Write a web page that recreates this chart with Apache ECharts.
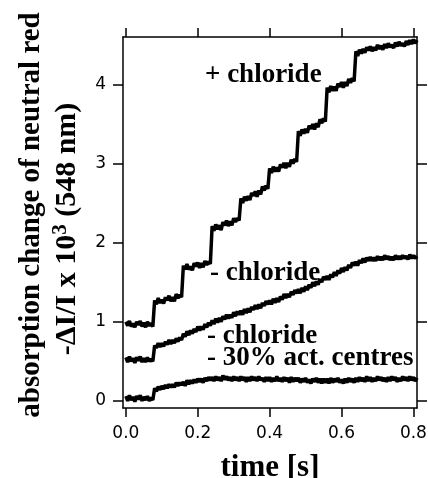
<!DOCTYPE html>
<html><head><meta charset="utf-8">
<script src="https://cdn.jsdelivr.net/npm/echarts@6/dist/echarts.min.js"></script>
<style>html,body{margin:0;padding:0;background:#fff}#c{width:428px;height:478px}</style>
</head><body><div id="c"></div>
<script>
const times = [
  0.000,0.005,0.010,0.015,0.020,0.025,0.030,0.035,0.040,0.045,0.050,0.055,0.060,0.065,0.070,0.075,
  0.080,0.085,0.090,0.095,0.100,0.105,0.110,0.115,0.120,0.125,0.130,0.135,0.140,0.145,0.150,0.155,
  0.160,0.165,0.170,0.175,0.180,0.185,0.190,0.195,0.200,0.205,0.210,0.215,0.220,0.225,0.230,0.235,
  0.240,0.245,0.250,0.255,0.260,0.265,0.270,0.275,0.280,0.285,0.290,0.295,0.300,0.305,0.310,0.315,
  0.320,0.325,0.330,0.335,0.340,0.345,0.350,0.355,0.360,0.365,0.370,0.375,0.380,0.385,0.390,0.395,
  0.400,0.405,0.410,0.415,0.420,0.425,0.430,0.435,0.440,0.445,0.450,0.455,0.460,0.465,0.470,0.475,
  0.480,0.485,0.490,0.495,0.500,0.505,0.510,0.515,0.520,0.525,0.530,0.535,0.540,0.545,0.550,0.555,
  0.560,0.565,0.570,0.575,0.580,0.585,0.590,0.595,0.600,0.605,0.610,0.615,0.620,0.625,0.630,0.635,
  0.640,0.645,0.650,0.655,0.660,0.665,0.670,0.675,0.680,0.685,0.690,0.695,0.700,0.705,0.710,0.715,
  0.720,0.725,0.730,0.735,0.740,0.745,0.750,0.755,0.760,0.765,0.770,0.775,0.780,0.785,0.790,0.795,
  0.800,0.805,0.810];
const plusChloride = [
  1.00,0.95,1.01,0.94,0.98,0.93,1.00,0.96,1.01,0.94,0.99,0.93,1.00,0.95,0.98,0.94,
  1.27,1.22,1.30,1.24,1.28,1.23,1.31,1.27,1.33,1.26,1.31,1.26,1.35,1.30,1.34,1.31,
  1.71,1.66,1.73,1.66,1.70,1.65,1.74,1.70,1.75,1.68,1.74,1.69,1.77,1.72,1.76,1.73,
  2.21,2.15,2.23,2.17,2.22,2.16,2.26,2.22,2.28,2.21,2.27,2.22,2.31,2.26,2.31,2.28,
  2.56,2.50,2.58,2.53,2.59,2.54,2.63,2.59,2.65,2.58,2.66,2.61,2.71,2.66,2.72,2.68,
  2.94,2.88,2.96,2.90,2.95,2.90,2.99,2.95,3.01,2.94,3.01,2.96,3.05,3.00,3.06,3.02,
  3.41,3.35,3.43,3.38,3.44,3.39,3.48,3.44,3.50,3.43,3.51,3.46,3.56,3.51,3.57,3.53,
  3.96,3.90,3.98,3.92,3.97,3.92,4.01,3.97,4.03,3.96,4.03,3.98,4.07,4.02,4.08,4.04,
  4.42,4.36,4.44,4.39,4.45,4.40,4.47,4.43,4.48,4.42,4.47,4.43,4.50,4.45,4.49,4.44,
  4.51,4.46,4.52,4.47,4.50,4.46,4.53,4.48,4.54,4.49,4.52,4.48,4.55,4.50,4.56,4.51,
  4.57,4.52,4.56];
const minusChloride = [
  0.55,0.49,0.56,0.50,0.54,0.48,0.55,0.51,0.56,0.49,0.54,0.49,0.55,0.50,0.53,0.50,
  0.70,0.67,0.73,0.68,0.73,0.69,0.75,0.71,0.77,0.72,0.77,0.73,0.79,0.75,0.80,0.77,
  0.85,0.81,0.88,0.83,0.89,0.85,0.91,0.87,0.94,0.89,0.94,0.90,0.97,0.93,0.99,0.95,
  1.02,0.97,1.04,0.99,1.05,1.00,1.07,1.03,1.09,1.04,1.09,1.05,1.12,1.07,1.13,1.09,
  1.14,1.09,1.16,1.11,1.17,1.12,1.19,1.15,1.21,1.16,1.22,1.17,1.24,1.20,1.26,1.22,
  1.27,1.22,1.29,1.24,1.30,1.25,1.32,1.28,1.35,1.30,1.35,1.31,1.38,1.34,1.40,1.36,
  1.41,1.36,1.43,1.38,1.45,1.40,1.47,1.43,1.50,1.45,1.51,1.47,1.54,1.50,1.57,1.53,
  1.58,1.53,1.60,1.56,1.63,1.58,1.65,1.61,1.68,1.63,1.69,1.65,1.72,1.68,1.75,1.71,
  1.76,1.71,1.78,1.74,1.80,1.75,1.81,1.77,1.82,1.77,1.81,1.77,1.83,1.78,1.82,1.78,
  1.84,1.79,1.83,1.78,1.82,1.78,1.84,1.79,1.83,1.79,1.84,1.80,1.83,1.79,1.85,1.80,
  1.84,1.80,1.83];
const reducedCentres = [
  0.06,0.00,0.07,0.01,0.05,-0.01,0.06,0.02,0.07,0.00,0.05,0.01,0.06,0.00,0.04,0.01,
  0.16,0.12,0.18,0.14,0.19,0.15,0.20,0.16,0.21,0.17,0.21,0.17,0.23,0.19,0.23,0.20,
  0.24,0.19,0.26,0.21,0.26,0.22,0.27,0.23,0.28,0.24,0.28,0.23,0.29,0.25,0.30,0.26,
  0.30,0.25,0.31,0.26,0.30,0.25,0.32,0.27,0.31,0.26,0.30,0.25,0.31,0.26,0.30,0.25,
  0.31,0.26,0.30,0.24,0.30,0.25,0.31,0.26,0.30,0.25,0.31,0.26,0.29,0.24,0.30,0.25,
  0.30,0.24,0.29,0.25,0.31,0.25,0.29,0.24,0.30,0.25,0.29,0.23,0.30,0.24,0.29,0.25,
  0.29,0.23,0.28,0.24,0.29,0.23,0.27,0.22,0.28,0.24,0.29,0.23,0.28,0.22,0.28,0.23,
  0.28,0.22,0.29,0.23,0.28,0.24,0.29,0.23,0.27,0.22,0.28,0.23,0.29,0.24,0.28,0.23,
  0.29,0.24,0.30,0.25,0.29,0.24,0.31,0.25,0.30,0.24,0.29,0.25,0.31,0.26,0.30,0.25,
  0.29,0.24,0.30,0.25,0.31,0.26,0.30,0.24,0.29,0.25,0.31,0.26,0.30,0.25,0.31,0.26,
  0.30,0.25,0.29];
const xTicks = [0, 0.2, 0.4, 0.6, 0.8];
const yTicks = [0, 1, 2, 3, 4];
const traceLabels = ['+ chloride', '- chloride', '- chloride', '- 30% act. centres'];

const pairs = arr => times.map((t, i) => [t, arr[i]]);
const serif = '"Liberation Serif", "Times New Roman", serif';
const lineCol = '#000';

function xAx(pos, labels) {
  return {
    type: 'value', min: -0.008, max: 0.81, position: pos,
    axisLine: { show: true, onZero: false, lineStyle: { color: lineCol, width: 1.5 } },
    axisTick: { show: true, length: 9, customValues: xTicks, lineStyle: { color: lineCol, width: 1.5 } },
    axisLabel: labels ? { show: true, customValues: xTicks, formatter: v => v.toFixed(1), margin: 17,
      color: '#000', fontFamily: 'DejaVu Sans', fontSize: 17 } : { show: false },
    splitLine: { show: false }
  };
}
function yAx(pos, labels) {
  return {
    type: 'value', min: -0.09, max: 4.6, position: pos,
    axisLine: { show: true, onZero: false, lineStyle: { color: lineCol, width: 1.5 } },
    axisTick: { show: true, length: 10, customValues: yTicks, lineStyle: { color: lineCol, width: 1.5 } },
    axisLabel: labels ? { show: true, customValues: yTicks, formatter: v => String(v), margin: 17,
      color: '#000', fontFamily: 'DejaVu Sans', fontSize: 17 } : { show: false },
    splitLine: { show: false }
  };
}

const xb = xAx('bottom', true);
xb.name = 'time [s]';
xb.nameLocation = 'middle';
xb.nameGap = 44;
xb.nameTextStyle = { fontFamily: serif, fontWeight: 'bold', fontSize: 31, color: '#000' };

const lineSeries = (name, arr) => ({
  name, type: 'line', data: pairs(arr), showSymbol: false, symbol: 'none',
  lineStyle: { color: '#000', width: 3.5 }, xAxisIndex: 0, yAxisIndex: 0, animation: false
});

const labelFont = 'bold 27px ' + serif;
const chart = echarts.init(document.getElementById('c'), null, { renderer: 'canvas' });
chart.setOption({
  backgroundColor: '#fff',
  animation: false,
  grid: { left: 123, right: 11, top: 37, bottom: 70, containLabel: false, outerBoundsMode: 'none' },
  xAxis: [xb, xAx('top', false)],
  yAxis: [yAx('left', true), yAx('right', false)],
  series: [
    lineSeries('+ chloride', plusChloride),
    lineSeries('- chloride', minusChloride),
    lineSeries('- chloride, - 30% act. centres', reducedCentres)
  ],
  graphic: [
    { type: 'text', x: 205, y: 75, style: { text: traceLabels[0], font: labelFont, fill: '#000', align: 'left', verticalAlign: 'middle' } },
    { type: 'text', x: 210, y: 273, style: { text: traceLabels[1], font: labelFont, fill: '#000', align: 'left', verticalAlign: 'middle' } },
    { type: 'text', x: 207, y: 336, style: { text: traceLabels[2], font: labelFont, fill: '#000', align: 'left', verticalAlign: 'middle' } },
    { type: 'text', x: 207, y: 358, style: { text: traceLabels[3], font: labelFont, fill: '#000', align: 'left', verticalAlign: 'middle' } },
    { type: 'text', x: 32, y: 215, rotation: Math.PI / 2,
      style: { text: 'absorption change of neutral red', font: 'bold 29px ' + serif, fill: '#000', align: 'center', verticalAlign: 'middle' } },
    { type: 'text', x: 67, y: 229, rotation: Math.PI / 2,
      style: { text: '{a|-ΔI/I x 10}{s|3}{a| (548 nm)}', align: 'center', verticalAlign: 'middle', fill: '#000',
        rich: {
          a: { fontFamily: serif, fontWeight: 'bold', fontSize: 30, fill: '#000', lineHeight: 34 },
          s: { fontFamily: serif, fontWeight: 'bold', fontSize: 21, fill: '#000', verticalAlign: 'top', lineHeight: 34 }
        } } }
  ]
});
</script>
</body></html>
